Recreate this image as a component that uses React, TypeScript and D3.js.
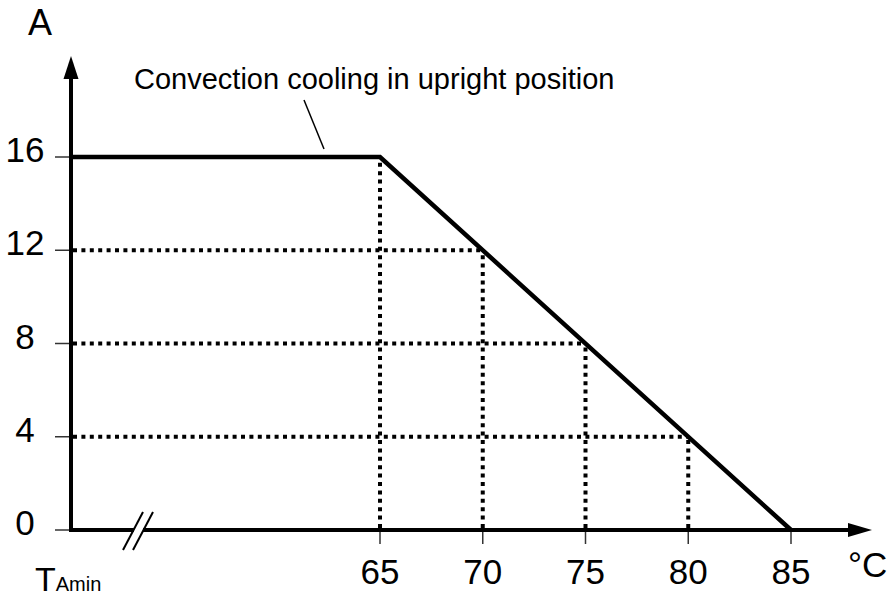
import React from "react";
import * as d3 from "d3";

// Temperature axis ticks (°C)
const tempTicks = [65, 70, 75, 80, 85];
// Current axis ticks (A)
const currentTicks = [0, 4, 8, 12, 16];
// Derating curve: TAmin (axis origin, broken axis) -> 65°C -> 85°C
const curveTemp = [50, 65, 85];
const curveCurrent = [16, 16, 0];
// Dotted guide points on the curve
const guideTemp = [65, 70, 75, 80];
const guideCurrent = [16, 12, 8, 4];

const W = 892;
const H = 597;
const FONT = "'Liberation Sans', Arial, sans-serif";

export default function App() {
  const x = d3.scaleLinear().domain([65, 85]).range([380, 791]);
  const y = d3.scaleLinear().domain([0, 16]).range([530, 157]);
  const x0 = 71; // y-axis position (TAmin)
  const y0 = y(0);

  const line = d3
    .line<number>()
    .x((d, i) => (i === 0 ? x0 + 2 : x(d)))
    .y((_, i) => y(curveCurrent[i]));

  const dots = "4 4.4";

  return (
    <svg
      width={W}
      height={H}
      style={{ position: "absolute", left: 0, top: 0, background: "#fff" }}
      fontFamily={FONT}
    >
      <rect width={W} height={H} fill="#fff" />

      {/* dotted guides */}
      {guideTemp.map((t, i) => (
        <g key={"g" + t}>
          <line
            x1={x(t)}
            x2={x(t)}
            y1={y0 - 2}
            y2={y(guideCurrent[i])}
            stroke="#000"
            strokeWidth={4}
            strokeDasharray={dots}
          />
          {i > 0 && (
            <line
              x1={x0 + 2}
              x2={x(t)}
              y1={y(guideCurrent[i])}
              y2={y(guideCurrent[i])}
              stroke="#000"
              strokeWidth={4}
              strokeDasharray={dots}
            />
          )}
        </g>
      ))}

      {/* y ticks */}
      {currentTicks.map((v) => (
        <g key={"yt" + v}>
          <line x1={55} x2={x0} y1={y(v)} y2={y(v)} stroke="#333" strokeWidth={1.5} />
          <text x={25} y={y(v) + 5} fontSize={35} textAnchor="middle" fill="#000">
            {v}
          </text>
        </g>
      ))}

      {/* x ticks */}
      {tempTicks.map((t) => (
        <g key={"xt" + t}>
          <line x1={x(t)} x2={x(t)} y1={y0} y2={y0 + 14} stroke="#333" strokeWidth={1.5} />
          <text x={x(t)} y={584} fontSize={35} textAnchor="middle" fill="#000">
            {t}
          </text>
        </g>
      ))}

      {/* axes */}
      <line x1={x0} x2={x0} y1={y0 + 2} y2={70} stroke="#000" strokeWidth={4} />
      <path d={`M${x0 - 7.5},79 L${x0},56 L${x0 + 7.5},79 Z`} fill="#000" />
      <line x1={x0 - 2} x2={852} y1={y0} y2={y0} stroke="#000" strokeWidth={4} />
      <path d={`M848,${y0 - 7} L872,${y0} L848,${y0 + 7} Z`} fill="#000" />

      {/* axis break */}
      <rect x={134} y={y0 - 4} width={9} height={8} fill="#fff" />
      <line x1={123} y1={550} x2={143} y2={512} stroke="#000" strokeWidth={2} />
      <line x1={133} y1={550} x2={153} y2={512} stroke="#000" strokeWidth={2} />

      {/* curve */}
      <path
        d={line(curveTemp) || ""}
        fill="none"
        stroke="#000"
        strokeWidth={4.5}
        strokeLinejoin="miter"
      />

      {/* annotation */}
      <text x={134} y={89} fontSize={29} fill="#000">
        Convection cooling in upright position
      </text>
      <line x1={304} y1={100} x2={324} y2={149} stroke="#000" strokeWidth={1.5} />

      {/* axis titles */}
      <text x={40} y={35} fontSize={36} textAnchor="middle" fill="#000">
        A
      </text>
      <text x={848} y={577} fontSize={35} fill="#000">
        °C
      </text>
      <text x={35} y={591} fill="#000">
        <tspan fontSize={34}>T</tspan>
        <tspan fontSize={20}>Amin</tspan>
      </text>
    </svg>
  );
}
